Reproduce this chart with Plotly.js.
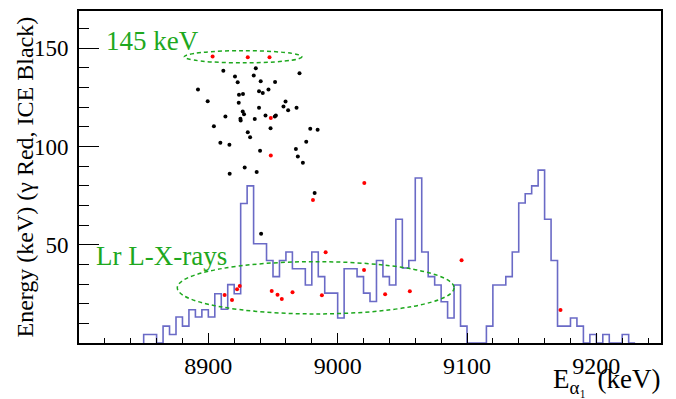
<!DOCTYPE html>
<html>
<head>
<meta charset="utf-8">
<script src="https://cdn.plot.ly/plotly-3.0.1.min.js"></script>
<style>
body{margin:0;background:#fff;}
</style>
</head>
<body>
<div id="chart" style="width:676px;height:399px"></div>
<script>
// ---- Data ----
// Alpha-energy histogram (5 keV bins starting at 8850 keV), heights in y-axis units
const histBinStart = 8850;
const histBinWidth = 5;
const histValues = [
  4.3, 4.3, 0, 8.6, 4.3, 13.2, 8.6, 16.9, 13.2, 16.9,
  13.2, 25.1, 17.2, 29.7, 25.1, 71, 80, 50.5, 50.5, 42,
  33.8, 42, 46.3, 37.8, 37.8, 29.5, 46.3, 33.8, 25.4, 25.4,
  12.7, 37.8, 37.8, 33.8, 25.4, 21.1, 42, 33.8, 29.5, 63,
  38.2, 42, 84, 46.3, 33.8, 29.5, 21, 12.7, 29.5, 8.6,
  0, 0, 0, 8.6, 29.5, 29.5, 33.8, 46.3, 71.3, 76,
  80, 88, 63, 42, 8.6, 8.6, 12.7, 8.6, 0, 4.3,
  0, 4.3, 0, 0, 4.3, 0
];

// ICE (conversion electron) coincidences: black points
const iceE = [8911.6, 8936.7, 8920.6, 8935.1, 8970.5, 8922.7, 8940.5, 8951.6, 8892.0, 8939.2,
  8942.1, 8946.5, 8923.7, 8926.8, 8899.5, 8923.5, 8959.7, 8958.1, 8961.7, 8968.2,
  8939.2, 8926.6, 8927.6, 8913.2, 8924.8, 8925.0, 8935.9, 8944.2, 8951.4, 8952.2,
  8904.3, 8948.1, 8978.8, 8984.5, 8930.5, 8932.3, 8975.7, 8909.3, 8916.3, 8940.0,
  8967.7, 8969.2, 8973.1, 8928.1, 8916.5, 8937.4, 8982.2, 8940.8];
const iceY = [138.6, 139.8, 135.7, 136.2, 137.3, 132.7, 133.2, 132.9, 129.0, 128.2,
  127.3, 129.0, 126.4, 126.7, 123.1, 122.3, 122.9, 120.4, 118.5, 119.7,
  119.7, 117.8, 116.5, 115.3, 114.1, 113.3, 114.0, 115.8, 115.3, 115.8,
  110.3, 109.3, 109.0, 108.5, 107.3, 104.7, 102.5, 101.9, 100.9, 97.8,
  98.8, 94.9, 91.7, 89.3, 86.1, 87.1, 76.3, 55.6];

// gamma coincidences: red points
const gammaE = [8903.3, 8930.5, 8947.3, 8948.3, 8948.3, 8980.9, 9020.6, 8990.7, 9020.4, 8924.3,
  8922.2, 8912.6, 8918.3, 8949.0, 8953.5, 8956.8, 8965.1, 8987.8, 9036.7, 9055.8,
  9095.8, 9172.3];
const gammaY = [145.8, 145.5, 145.5, 114.5, 95.4, 72.8, 81.5, 46.2, 37.2, 29.0,
  27.3, 24.4, 21.9, 26.5, 24.6, 22.4, 25.8, 24.3, 24.8, 26.3,
  42.1, 16.8];

// Highlighted regions (data coordinates) and labels
const regionLabels = ['145 keV', 'Lr L-X-rays'];
const region145 = {x0: 8881.4, x1: 8972.3, y0: 142.6, y1: 148.8};
const regionLX = {x0: 8876, x1: 9090, y0: 14.8, y1: 41.4};

const xTickVals = [8800, 8900, 9000, 9100, 9200];
const xTickText = ['', '8900', '9000', '9100', '9200'];
const yTickVals = [0, 50, 100, 150];
const yTickText = ['', '50', '100', '150'];

// ---- Build histogram outline (step) ----
const hx = [histBinStart];
const hy = [0];
for (let i = 0; i < histValues.length; i++) {
  hx.push(histBinStart + i * histBinWidth);
  hy.push(histValues[i]);
}
hx.push(histBinStart + histValues.length * histBinWidth);
hy.push(0);

const greenCol = '#1ea81e';
const fam = 'Liberation Serif';

const traces = [
  {x: hx, y: hy, type: 'scatter', mode: 'lines', line: {shape: 'hv', color: '#6a6ac6', width: 1.6},
   hoverinfo: 'skip', showlegend: false},
  {x: iceE, y: iceY, type: 'scatter', mode: 'markers', marker: {color: '#000000', size: 4},
   showlegend: false},
  {x: gammaE, y: gammaY, type: 'scatter', mode: 'markers', marker: {color: '#ff0000', size: 4},
   showlegend: false}
];

const layout = {
  width: 676, height: 399,
  margin: {l: 79, r: 15, t: 11, b: 56},
  paper_bgcolor: '#ffffff', plot_bgcolor: '#ffffff',
  font: {family: fam, size: 20, color: '#000'},
  showlegend: false,
  xaxis: {
    range: [8800, 9250], showgrid: false, zeroline: false,
    showline: true, linecolor: '#000', linewidth: 2, mirror: true,
    ticks: 'inside', ticklen: 10, tickwidth: 1, tickcolor: '#000',
    tickmode: 'array', tickvals: xTickVals, ticktext: xTickText,
    tickfont: {family: fam, size: 24, color: '#000'},
    minor: {tickmode: 'linear', tick0: 8800, dtick: 20, ticks: 'inside', ticklen: 5, tickcolor: '#000', showgrid: false}
  },
  yaxis: {
    range: [0, 169], showgrid: false, zeroline: false,
    showline: true, linecolor: '#000', linewidth: 2, mirror: true,
    ticks: 'inside', ticklen: 20, tickwidth: 1, tickcolor: '#000',
    tickmode: 'array', tickvals: yTickVals, ticktext: yTickText,
    tickfont: {family: fam, size: 23, color: '#000'},
    ticklabelstandoff: 4,
    minor: {tickmode: 'linear', tick0: 0, dtick: 10, ticks: 'inside', ticklen: 10, tickcolor: '#000', showgrid: false}
  },
  shapes: [
    {type: 'circle', xref: 'x', yref: 'y', x0: region145.x0, x1: region145.x1, y0: region145.y0, y1: region145.y1,
     line: {color: greenCol, width: 1.5, dash: '4px,3px'}},
    {type: 'circle', xref: 'x', yref: 'y', x0: regionLX.x0, x1: regionLX.x1, y0: regionLX.y0, y1: regionLX.y1,
     line: {color: greenCol, width: 1.5, dash: '4px,3px'}}
  ],
  annotations: [
    {text: regionLabels[0], xref: 'x', yref: 'y', x: 8819.5, y: 153.5, xanchor: 'left', yanchor: 'middle',
     showarrow: false, font: {family: fam, size: 27, color: greenCol}},
    {text: regionLabels[1], xref: 'x', yref: 'y', x: 8811.5, y: 44.5, xanchor: 'left', yanchor: 'middle',
     showarrow: false, font: {family: fam, size: 27, color: greenCol}},
    {text: 'Energy (keV) (γ Red, ICE Black)', xref: 'paper', yref: 'paper', x: 0, xshift: -54.5, y: 0.5,
     xanchor: 'center', yanchor: 'middle', textangle: -90, showarrow: false,
     font: {family: fam, size: 24, color: '#000'}},
    {text: 'E<sub>α₁ </sub> (keV)', xref: 'paper', yref: 'paper', x: 1, xshift: 1, y: 0, yshift: -19,
     xanchor: 'right', yanchor: 'top', showarrow: false,
     font: {family: fam, size: 27, color: '#000'}}
  ]
};

Plotly.newPlot('chart', traces, layout, {displayModeBar: false, staticPlot: true});
</script>
</body>
</html>
